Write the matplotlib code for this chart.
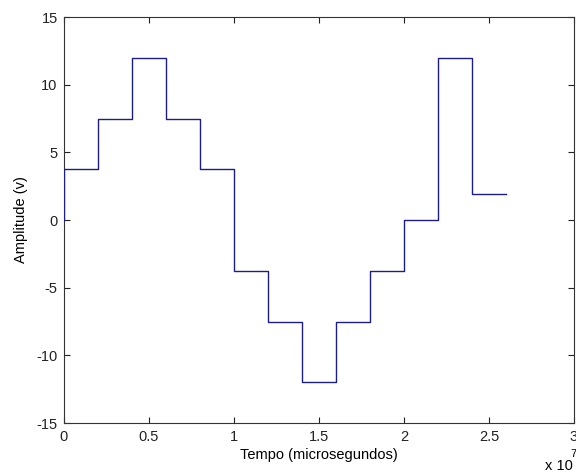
import numpy as np
import matplotlib
matplotlib.use('Agg')
import matplotlib.pyplot as plt

# staircase signal, time in units of 1e7 microseconds
tempo = [0, 0, 0.2, 0.4, 0.6, 0.8, 1.0, 1.2, 1.4, 1.6, 1.8, 2.0, 2.2, 2.4, 2.6]
amplitude = [0, 3.75, 7.5, 12, 7.5, 3.75, -3.75, -7.5, -12, -7.5, -3.75, 0, 12, 1.9, 1.9]

xticks = [0, 0.5, 1, 1.5, 2, 2.5, 3]
xticklabels = ['0', '0.5', '1', '1.5', '2', '2.5', '3']
yticks = [-15, -10, -5, 0, 5, 10, 15]

plt.rcParams['font.family'] = ['Liberation Sans', 'DejaVu Sans']
plt.rcParams['axes.unicode_minus'] = False

fig = plt.figure(figsize=(5.76, 4.73), dpi=100)
ax = fig.add_axes([64/576, 50/473, 510/576, 406/473])

ax.plot(tempo, amplitude, drawstyle='steps-post', color='#1c1c8a', linewidth=1.0, zorder=3)

ax.set_xlim(0, 3)
ax.set_ylim(-15, 15)
ax.set_xticks(xticks)
ax.set_xticklabels(xticklabels)
ax.set_yticks(yticks)
ax.tick_params(direction='in', length=4, width=0.8, top=True, right=True,
               labelsize=10.5, colors='#222222')
ax.tick_params(axis='x', pad=5)
ax.tick_params(axis='y', pad=4.5)
for s in ax.spines.values():
    s.set_color('#333333')
    s.set_linewidth(0.8)

ax.set_xlabel('Tempo (microsegundos)', fontsize=10.5, labelpad=3)
ax.set_ylabel('Amplitude (v)', fontsize=10.5, labelpad=6)

fig.text(545/576, 1 - 470/473, 'x 10', fontsize=10.5, va='baseline', ha='left')
fig.text(570/576, 1 - 457/473, '7', fontsize=8, va='baseline', ha='left')

fig.savefig('out.png', dpi=100)
